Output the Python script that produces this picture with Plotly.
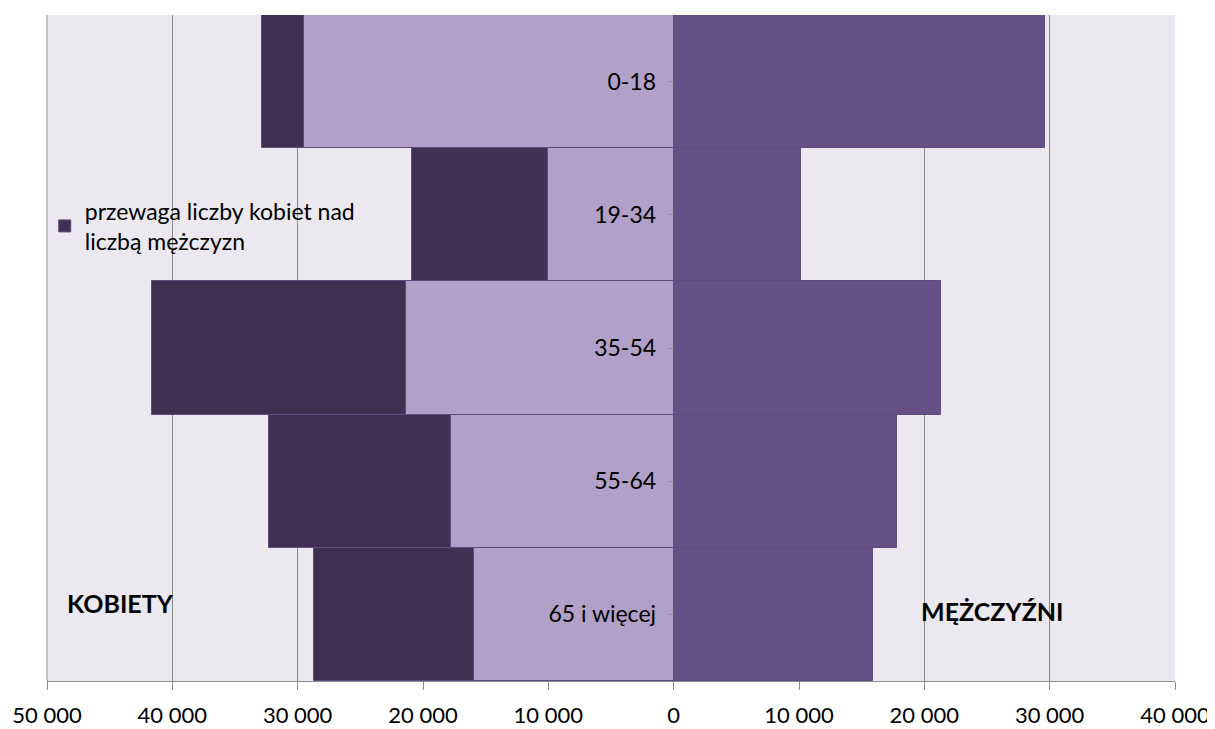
import plotly.graph_objects as go

age_groups = ["0-18", "19-34", "35-54", "55-64", "65 i więcej"]
men = [29640, 10160, 21350, 17820, 15930]
women_matched = [29500, 10030, 21370, 17800, 15900]
women_excess = [3380, 10860, 20240, 14500, 12780]

tick_values = [-50000, -40000, -30000, -20000, -10000, 0, 10000, 20000, 30000, 40000]
tick_labels = ["50 000", "40 000", "30 000", "20 000", "10 000", "0", "10 000", "20 000", "30 000", "40 000"]

FONT = "Lato"
border = dict(color="#5E4B7F", width=1)

fig = go.Figure()
fig.add_trace(go.Bar(
    y=age_groups, x=[-v for v in women_matched], orientation="h",
    marker=dict(color="#B1A0C7", line=border), showlegend=False, name="kobiety",
))
fig.add_trace(go.Bar(
    y=age_groups, x=[-v for v in women_excess], orientation="h",
    marker=dict(color="#403152", line=border), showlegend=True,
    name="przewaga liczby kobiet nad<br>liczbą mężczyzn",
))
fig.add_trace(go.Bar(
    y=age_groups, x=men, orientation="h",
    marker=dict(color="#674F87", line=border), showlegend=False, name="mężczyźni",
))

fig.update_layout(
    width=1207, height=721,
    margin=dict(l=39, r=40, t=7, b=48),
    barmode="relative", bargap=0,
    paper_bgcolor="white", plot_bgcolor="#EBE9EF",
    font=dict(family=FONT, size=20, color="#000000"),
    legend=dict(x=-0.002, y=0.738, xanchor="left", yanchor="top",
                bgcolor="rgba(0,0,0,0)", font=dict(size=23, family=FONT),
                itemwidth=30, tracegroupgap=0),
    xaxis=dict(range=[-50000, 40000], tickvals=tick_values, ticktext=tick_labels,
               showgrid=True, gridcolor="#8C8C8C", gridwidth=1,
               zeroline=True, zerolinecolor="#8C8C8C", zerolinewidth=2,
               showline=True, linecolor="#8C8C8C", linewidth=1,
               ticks="outside", ticklen=8, tickcolor="#8C8C8C",
               ticklabelstandoff=7, automargin=False,
               tickfont=dict(size=22, family=FONT), fixedrange=True),
    yaxis=dict(type="category", categoryorder="array", categoryarray=age_groups,
               autorange="reversed", anchor="free", position=50/90,
               showgrid=False, zeroline=False, showline=False,
               ticks="outside", ticklen=5, tickcolor="#8C8C8C",
               ticklabelstandoff=8, automargin=False,
               tickfont=dict(size=23, family=FONT)),
    annotations=[
        dict(text="<b>KOBIETY</b>", x=-48600, y="65 i więcej", xref="x", yref="y",
             xanchor="left", yanchor="middle", yshift=11, showarrow=False,
             font=dict(size=25, family=FONT)),
        dict(text="<b>MĘŻCZYŹNI</b>", x=19600, y="65 i więcej", xref="x", yref="y",
             xanchor="left", yanchor="middle", yshift=3, showarrow=False,
             font=dict(size=25, family=FONT)),
    ],
    shapes=[dict(type="line", xref="paper", yref="paper", x0=0, x1=0, y0=0, y1=1,
                 line=dict(color="#8C8C8C", width=1))],
)

fig.write_html("out.html")
